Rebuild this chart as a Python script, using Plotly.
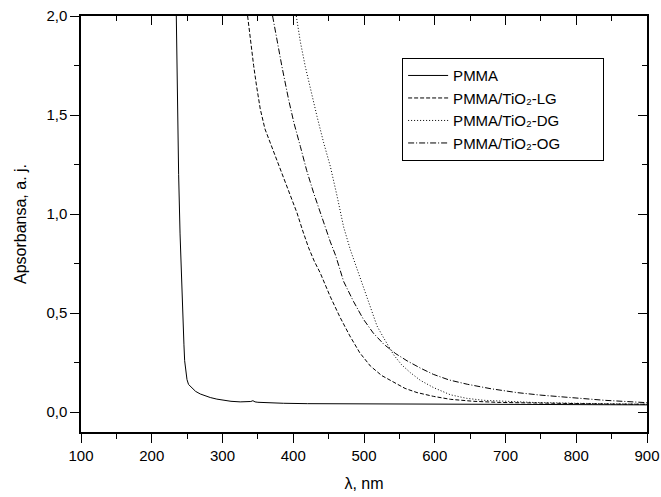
import plotly.graph_objects as go

# ---- data ----
pmma_nm = [234.7, 235.0, 235.6, 236.5, 238.0, 240.0, 242.0, 244.0, 245.5, 246.5, 248.0, 249.8, 252.0,
           257.0, 262.0, 268.6, 275.0, 282.7, 292.0, 301.6, 312.0, 325.0, 335.0, 340.0, 343.0,
           346.0, 350.0, 360.0, 386.0, 420.0, 480.0, 550.0, 600.0, 700.0, 800.0, 900.0]
pmma_a = [2.0, 1.9, 1.75, 1.5, 1.2, 0.9, 0.65, 0.45, 0.34, 0.26, 0.2, 0.165, 0.14,
          0.122, 0.105, 0.092, 0.082, 0.074, 0.066, 0.06, 0.055, 0.052, 0.051, 0.054, 0.058,
          0.052, 0.05, 0.048, 0.045, 0.043, 0.042, 0.041, 0.040, 0.039, 0.038, 0.037]

lg_nm = [335.5, 340.0, 344.0, 348.0, 353.4, 360.0, 367.6, 377.0, 386.4, 396.0, 405.3, 413.0,
         421.7, 430.0, 438.0, 445.0, 452.0, 466.0, 480.0, 494.0, 509.0, 525.0, 542.0, 558.0,
         575.0, 598.0, 622.0, 655.0, 693.0, 750.0, 800.0, 850.0, 900.0]
lg_a = [2.0, 1.86, 1.75, 1.65, 1.53, 1.43, 1.359, 1.27, 1.19, 1.10, 1.006, 0.92,
        0.83, 0.76, 0.704, 0.645, 0.586, 0.48, 0.385, 0.30, 0.233, 0.185, 0.15, 0.12,
        0.099, 0.08, 0.065, 0.055, 0.049, 0.045, 0.042, 0.041, 0.04]

dg_nm = [404.3, 410.0, 417.0, 425.0, 433.6, 443.0, 452.4, 462.0, 471.2, 480.6, 495.0, 507.0,
         518.4, 527.0, 534.8, 541.8, 553.0, 565.4, 580.0, 598.4, 622.0, 645.0, 669.0, 700.0,
         740.0, 800.0, 850.0, 900.0]
dg_a = [2.0, 1.87, 1.745, 1.62, 1.493, 1.36, 1.241, 1.09, 0.935, 0.821, 0.67, 0.55,
        0.435, 0.38, 0.334, 0.29, 0.24, 0.2, 0.16, 0.124, 0.088, 0.07, 0.06, 0.054,
        0.049, 0.045, 0.042, 0.04]

og_nm = [370.8, 377.0, 384.0, 393.5, 401.0, 410.0, 419.0, 428.8, 437.0, 445.3, 452.4, 460.0,
         471.2, 485.0, 499.0, 513.0, 528.0, 545.0, 561.0, 580.0, 598.0, 620.0, 646.0, 680.0,
         716.0, 750.0, 787.0, 840.0, 900.0]
og_a = [2.0, 1.87, 1.745, 1.577, 1.46, 1.342, 1.22, 1.107, 1.02, 0.93, 0.86, 0.79,
        0.66, 0.56, 0.47, 0.40, 0.343, 0.295, 0.259, 0.222, 0.191, 0.163, 0.141, 0.118,
        0.099, 0.086, 0.074, 0.06, 0.048]

names = ["PMMA", "PMMA/TiO₂-LG", "PMMA/TiO₂-DG", "PMMA/TiO₂-OG"]
y_ticks = [0.0, 0.5, 1.0, 1.5, 2.0]
x_ticks = [100, 200, 300, 400, 500, 600, 700, 800, 900]

FONT = "Arial, 'Liberation Sans', sans-serif"
PAD = "&nbsp;" * 9

fig = go.Figure()
series = [(pmma_nm, pmma_a, "solid"),
          (lg_nm, lg_a, "4px,2px"),
          (dg_nm, dg_a, "1px,2px"),
          (og_nm, og_a, "6px,2px,1px,2px")]
for (x, y, dash), name in zip(series, names):
    fig.add_trace(go.Scatter(x=x, y=y, mode="lines", name=name + PAD,
                             line=dict(color="black", width=1, dash=dash)))

# invisible trace to activate mirror axes
fig.add_trace(go.Scatter(x=[100], y=[0], xaxis="x2", yaxis="y2", mode="markers",
                         marker=dict(opacity=0), showlegend=False, hoverinfo="skip"))

axis_common = dict(showgrid=False, zeroline=False, linecolor="black", linewidth=1.5,
                   tickcolor="black", automargin=False,
                   tickfont=dict(family=FONT, size=15, color="black"))

fig.update_layout(
    width=661, height=497,
    margin=dict(l=81, r=14, t=16, b=65, autoexpand=False),
    plot_bgcolor="white", paper_bgcolor="white",
    separators=", ",
    font=dict(family=FONT, size=15, color="black"),
    xaxis=dict(range=[100, 900], tickvals=x_ticks, ticks="outside", ticklen=9, tickwidth=1.2,
               showline=True, mirror=True,
               minor=dict(dtick=50, ticks="outside", ticklen=5, tickcolor="black", tickwidth=1.2),
               title=dict(text="λ, nm", font=dict(family=FONT, size=16), standoff=15),
               **axis_common),
    yaxis=dict(range=[-0.1, 2.0], tickvals=y_ticks, tickformat=".1f", ticks="outside", ticklen=9,
               tickwidth=1.2, showline=True, mirror=True,
               minor=dict(dtick=0.25, tick0=0, ticks="outside", ticklen=5, tickcolor="black", tickwidth=1.2),
               title=dict(text="Apsorbansa, a. j.", font=dict(family=FONT, size=16), standoff=16),
               **axis_common),
    xaxis2=dict(range=[100, 900], overlaying="x", side="top", anchor="y2", tickvals=x_ticks,
                ticks="inside", ticklen=9, tickwidth=1.2, showticklabels=False, automargin=False,
                minor=dict(dtick=50, ticks="inside", ticklen=5, tickcolor="black", tickwidth=1.2),
                showgrid=False, zeroline=False, showline=False, tickcolor="black"),
    yaxis2=dict(range=[-0.1, 2.0], overlaying="y", side="right", anchor="x2", tickvals=y_ticks,
                ticks="inside", ticklen=9, tickwidth=1.2, showticklabels=False, automargin=False,
                minor=dict(dtick=0.25, tick0=0, ticks="inside", ticklen=5, tickcolor="black", tickwidth=1.2),
                showgrid=False, zeroline=False, showline=False, tickcolor="black"),
    legend=dict(x=0.567, y=0.899, xanchor="left", yanchor="top",
                bordercolor="black", borderwidth=1.2, bgcolor="white",
                font=dict(family=FONT, size=15, color="black"),
                tracegroupgap=0, itemwidth=40),
    showlegend=True,
)

fig.write_html("out.html", config={"displayModeBar": False},
               post_script="document.body.style.margin='0';")
